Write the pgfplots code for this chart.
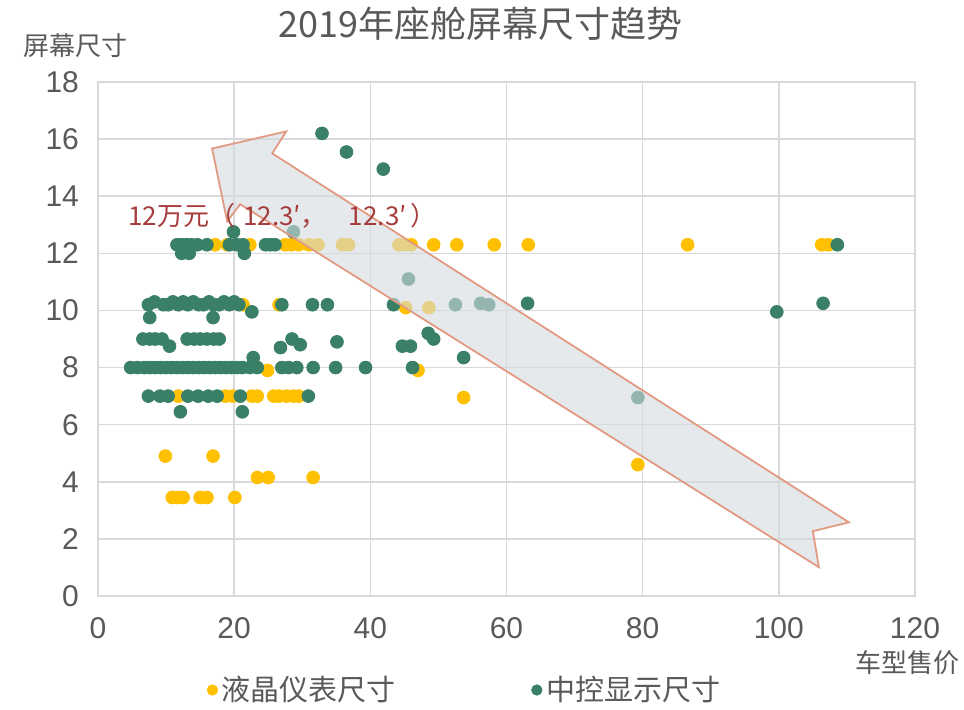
\documentclass[border=0pt]{standalone}
\usepackage{pgfplots}
\pgfplotsset{compat=1.18}
\usepackage{fontspec}
\setmainfont{Liberation Sans}
\newfontfamily\cjk{Noto Sans CJK SC}
\definecolor{gold}{HTML}{FFC000}
\definecolor{tealg}{HTML}{3A8067}
\definecolor{gridc}{HTML}{D9D9D9}
\definecolor{txtc}{HTML}{595959}
\definecolor{annot}{HTML}{A63C3C}
\definecolor{arrfill}{HTML}{D3DBE0}
\definecolor{arrline}{HTML}{E29A83}
\begin{document}
\begin{tikzpicture}
\useasboundingbox (-49pt,-56.5pt) rectangle (433pt,298pt);
\begin{axis}[
  at={(0,0)}, anchor=south west,
  scale only axis, width=408.5pt, height=257pt,
  xmin=0, xmax=120, ymin=0, ymax=18,
  clip marker paths=true,
  xtick={0,20,...,120}, ytick={0,2,...,18},
  grid=major, grid style={gridc, line width=0.8pt},
  axis line style={gridc, line width=0.8pt},
  major tick length=0pt,
  tick label style={font=\fontsize{15}{15}\selectfont, text=txtc},
  /pgf/number format/assume math mode=true,
  xticklabel style={yshift=-7pt},
  yticklabel style={xshift=-6pt},
  title={\cjk 2019年座舱屏幕尺寸趋势},
  title style={at={(axis description cs:0.468,1)}, anchor=center, yshift=23pt, font=\fontsize{18}{18}\selectfont, text=txtc},
  ylabel={\cjk 屏幕尺寸},
  every axis y label/.style={at={(axis description cs:-0.028,1)}, anchor=center, yshift=18pt, font=\fontsize{13}{13}\selectfont, text=txtc},
  xlabel={\cjk 车型售价},
  every axis x label/.style={at={(axis description cs:0.991,0)}, anchor=center, yshift=-33.5pt, font=\fontsize{13}{13}\selectfont, text=txtc},
  legend columns=2,
  legend style={at={(axis description cs:0.45,0)}, anchor=center, yshift=-47pt, draw=none, fill=none,
    font=\cjk\fontsize{14.5}{14.5}\selectfont, text=txtc,
    /tikz/every even column/.append style={column sep=66pt}},
  legend image post style={mark size=2.6pt},
  legend cell align=left,
]
\addplot[only marks, mark=*, mark size=3.2pt, mark options={fill=gold, draw=gold}] coordinates {
(17.2,12.3) (19.0,12.3) (22.3,12.3) (27.5,12.3) (28.4,12.3) (29.5,12.3) (31.0,12.3) (32.3,12.3) (35.9,12.3) (36.8,12.3) (44.2,12.3) (45.1,12.3) (46.0,12.3) (49.3,12.3) (52.7,12.3) (58.2,12.3) (63.2,12.3) (86.6,12.3) (106.3,12.3) (107.3,12.3)
(21.3,10.2) (26.6,10.2) (45.2,10.1) (48.6,10.1)
(24.9,7.9) (47.0,7.9)
(11.8,7.0) (18.7,7.0) (19.8,7.0) (22.6,7.0) (23.4,7.0) (25.8,7.0) (26.6,7.0) (27.7,7.0) (28.7,7.0) (29.5,7.0) (53.7,6.95)
(9.9,4.9) (16.9,4.9) (23.4,4.15) (25.0,4.15) (31.6,4.15) (10.9,3.45) (11.7,3.45) (12.5,3.45) (15.0,3.45) (16.0,3.45) (20.1,3.45) (79.3,4.6)
};
\addlegendentry{液晶仪表尺寸}
\addplot[only marks, mark=*, mark size=3.2pt, mark options={fill=tealg, draw=tealg}] coordinates {
(32.9,16.2) (36.5,15.55) (41.9,14.95)
(19.9,12.75) (28.7,12.75)
(11.6,12.3) (12.3,12.3) (13.0,12.3) (13.7,12.3) (14.6,12.3) (16.0,12.3) (19.3,12.3) (20.4,12.3) (21.3,12.3) (24.6,12.3) (25.3,12.3) (26.0,12.3) (108.6,12.3)
(12.3,12.0) (13.4,12.0) (21.5,12.0)
(45.6,11.1)
(7.4,10.2) (8.3,10.3) (9.6,10.2) (10.3,10.2) (11.0,10.3) (11.8,10.2) (12.5,10.3) (13.2,10.2) (14.0,10.3) (14.8,10.2) (15.5,10.2) (16.3,10.3) (17.0,10.2) (17.8,10.2) (18.5,10.3) (19.3,10.2) (20.0,10.3) (20.7,10.2)
(7.6,9.75) (16.9,9.75) (22.6,9.95)
(27.0,10.2) (31.5,10.2) (33.7,10.2) (43.4,10.2) (52.5,10.2) (56.2,10.25) (57.4,10.2) (63.1,10.25) (99.7,9.95) (106.5,10.25)
(6.6,9.0) (7.6,9.0) (8.4,9.0) (9.4,9.0) (10.5,8.75) (13.1,9.0) (14.1,9.0) (15.0,9.0) (16.0,9.0) (17.0,9.0) (17.8,9.0)
(26.8,8.7) (28.5,9.0) (29.7,8.8) (35.1,8.9) (44.7,8.75) (45.9,8.75) (48.5,9.2) (49.3,9.0) (53.7,8.35) (22.8,8.35)
(4.8,8) (5.8,8) (6.8,8) (7.6,8) (8.4,8) (9.2,8) (10.0,8) (10.8,8) (11.6,8) (12.4,8) (13.2,8) (14.0,8) (14.8,8) (15.6,8) (16.4,8) (17.2,8) (18.0,8) (18.8,8) (19.6,8) (20.4,8) (21.2,8) (22.3,8) (23.4,8) (27.0,8) (28.0,8) (29.2,8) (31.6,8) (34.9,8) (39.3,8) (46.2,8)
(7.4,7) (9.1,7) (10.3,7) (13.2,7) (14.7,7) (16.2,7) (17.5,7) (20.9,7) (30.9,7)
(12.1,6.45) (21.2,6.45) (79.3,6.95)
};
\addlegendentry{中控显示尺寸}
\addplot[forget plot, draw=arrline, line width=0.9pt, fill=arrfill, fill opacity=0.6, mark=none] coordinates {
  (16.76,15.67) (27.65,16.27) (25.59,15.50) (110.29,2.58)
  (105.0,2.27) (105.88,1.01) (20.88,13.72) (18.97,13.12)} -- cycle;
\node[anchor=west, text=annot, font=\cjk\fontsize{13}{13}\selectfont, inner sep=0pt] at (axis cs:4.4,13.3) {12万元（\hspace{4pt}12.3′，\hspace{11pt}12.3′\hspace{2pt}）};
\end{axis}
\end{tikzpicture}
\end{document}
